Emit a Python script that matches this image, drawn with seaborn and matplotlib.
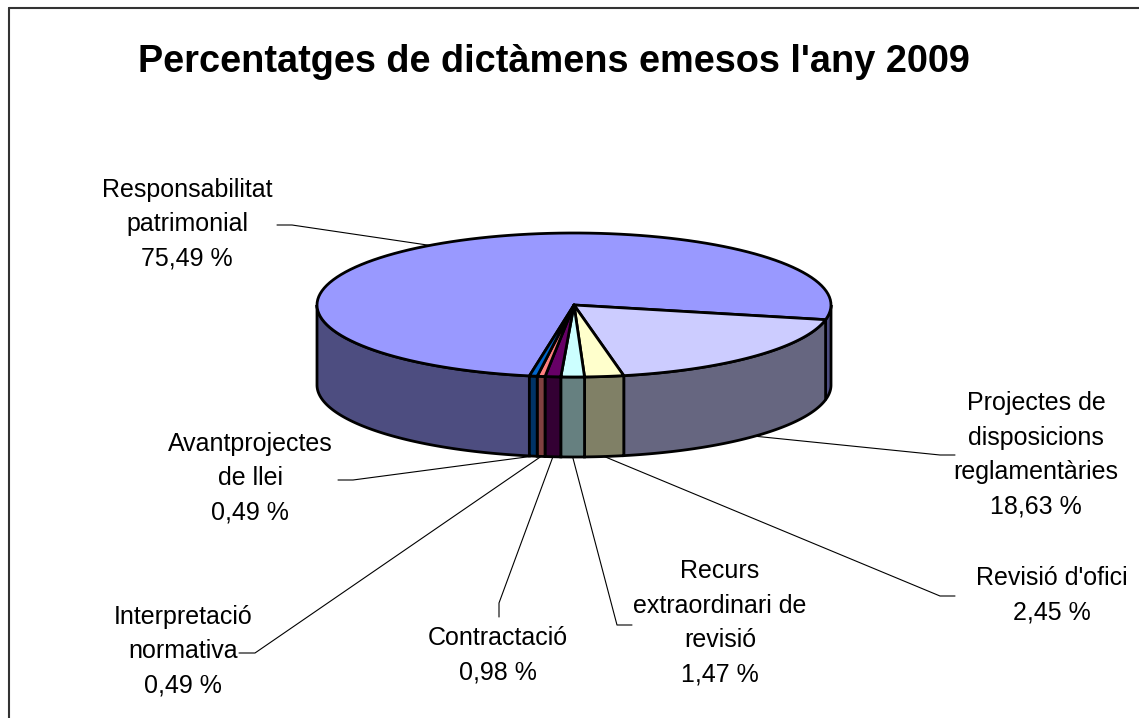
import numpy as np
import matplotlib
matplotlib.use('Agg')
import matplotlib.pyplot as plt
from matplotlib.patches import Polygon
from matplotlib.colors import to_rgb
import seaborn as sns

# data
categories = ['Responsabilitat\npatrimonial',
              'Projectes de\ndisposicions\nreglamentàries',
              "Revisió d'ofici",
              'Recurs\nextraordinari de\nrevisió',
              'Contractació',
              'Interpretació\nnormativa',
              'Avantprojectes\nde llei']
percent = [75.49, 18.63, 2.45, 1.47, 0.98, 0.49, 0.49]
title = "Percentatges de dictàmens emesos l'any 2009"

# style
top_colors = ['#9999FF', '#CCCCFF', '#FFFFCC', '#CCFFFF', '#660066', '#FF8080', '#0066CC']
side_colors = [tuple(0.5 * c for c in to_rgb(col)) for col in top_colors]

# layout (pixels)
cx, cy, rx, ry, depth = 574, 305, 257, 72, 80
start_angle = 260
label_xy = [(187, 224), (1036, 455), (1052, 595), (720, 623), (498, 655), (183, 651), (250, 478)]
elbow_xy = [(292, 225), (940, 455), (940, 596), (617, 625), (499, 603), (255, 653), (353, 480)]
tail_xy = [(277, 225), (955, 455), (955, 596), (632, 625), (499, 617), (239, 653), (338, 480)]

sns.set_theme(style='white')
plt.rcParams['font.family'] = ['Liberation Sans', 'DejaVu Sans']

fig = plt.figure(figsize=(11.39, 7.18), dpi=100)
ax = fig.add_axes([0, 0, 1, 1])
ax.set_xlim(0, 1139)
ax.set_ylim(718, 0)
ax.axis('off')


def pt(t, dz=0.0):
    r = np.radians(t)
    return cx + rx * np.cos(r), cy - ry * np.sin(r) + dz


def arc(a, b, dz=0.0, n=120):
    ts = np.linspace(a, b, n)
    return np.array([pt(t, dz) for t in ts])


cum = np.concatenate([[0], np.cumsum(percent)])
bounds = start_angle - 360 * cum / cum[-1]   # clockwise

# sides (only the front half is visible)
for i in range(len(percent)):
    hi, lo = bounds[i], bounds[i + 1]
    for shift in (-360, 0, 360):
        a = max(lo, -180 + shift)
        b = min(hi, 0 + shift)
        if b - a <= 0:
            continue
        top = arc(a, b)
        bot = arc(b, a, depth)
        ax.add_patch(Polygon(np.vstack([top, bot]), closed=True,
                             facecolor=side_colors[i], edgecolor='black', lw=2.0))

# top faces
for i in range(len(percent)):
    hi, lo = bounds[i], bounds[i + 1]
    pts = np.vstack([[cx, cy], arc(hi, lo)])
    ax.add_patch(Polygon(pts, closed=True, facecolor=top_colors[i],
                         edgecolor='black', lw=2.0, joinstyle='round'))

# labels and leader lines
for i, name in enumerate(categories):
    mid = (bounds[i] + bounds[i + 1]) / 2
    if np.sin(np.radians(mid)) < 0:
        ax_pt = pt(mid, depth)
    else:
        ax_pt = pt(mid)
    xs = [ax_pt[0], elbow_xy[i][0], tail_xy[i][0]]
    ys = [ax_pt[1], elbow_xy[i][1], tail_xy[i][1]]
    ax.plot(xs, ys, color='black', lw=0.8)
    txt = name + '\n' + f'{percent[i]:.2f}'.replace('.', ',') + ' %'
    ax.text(label_xy[i][0], label_xy[i][1], txt, ha='center', va='center',
            fontsize=18, linespacing=1.55, color='black')

ax.text(554, 62, title, ha='center', va='center', fontsize=27.3, fontweight='bold', color='black')

# chart frame (top and left edges visible)
ax.plot([9, 1139], [8, 8], color='#333333', lw=1.5)
ax.plot([9, 9], [8, 718], color='#333333', lw=1.5)

fig.savefig('out.png', dpi=100, facecolor='white')
